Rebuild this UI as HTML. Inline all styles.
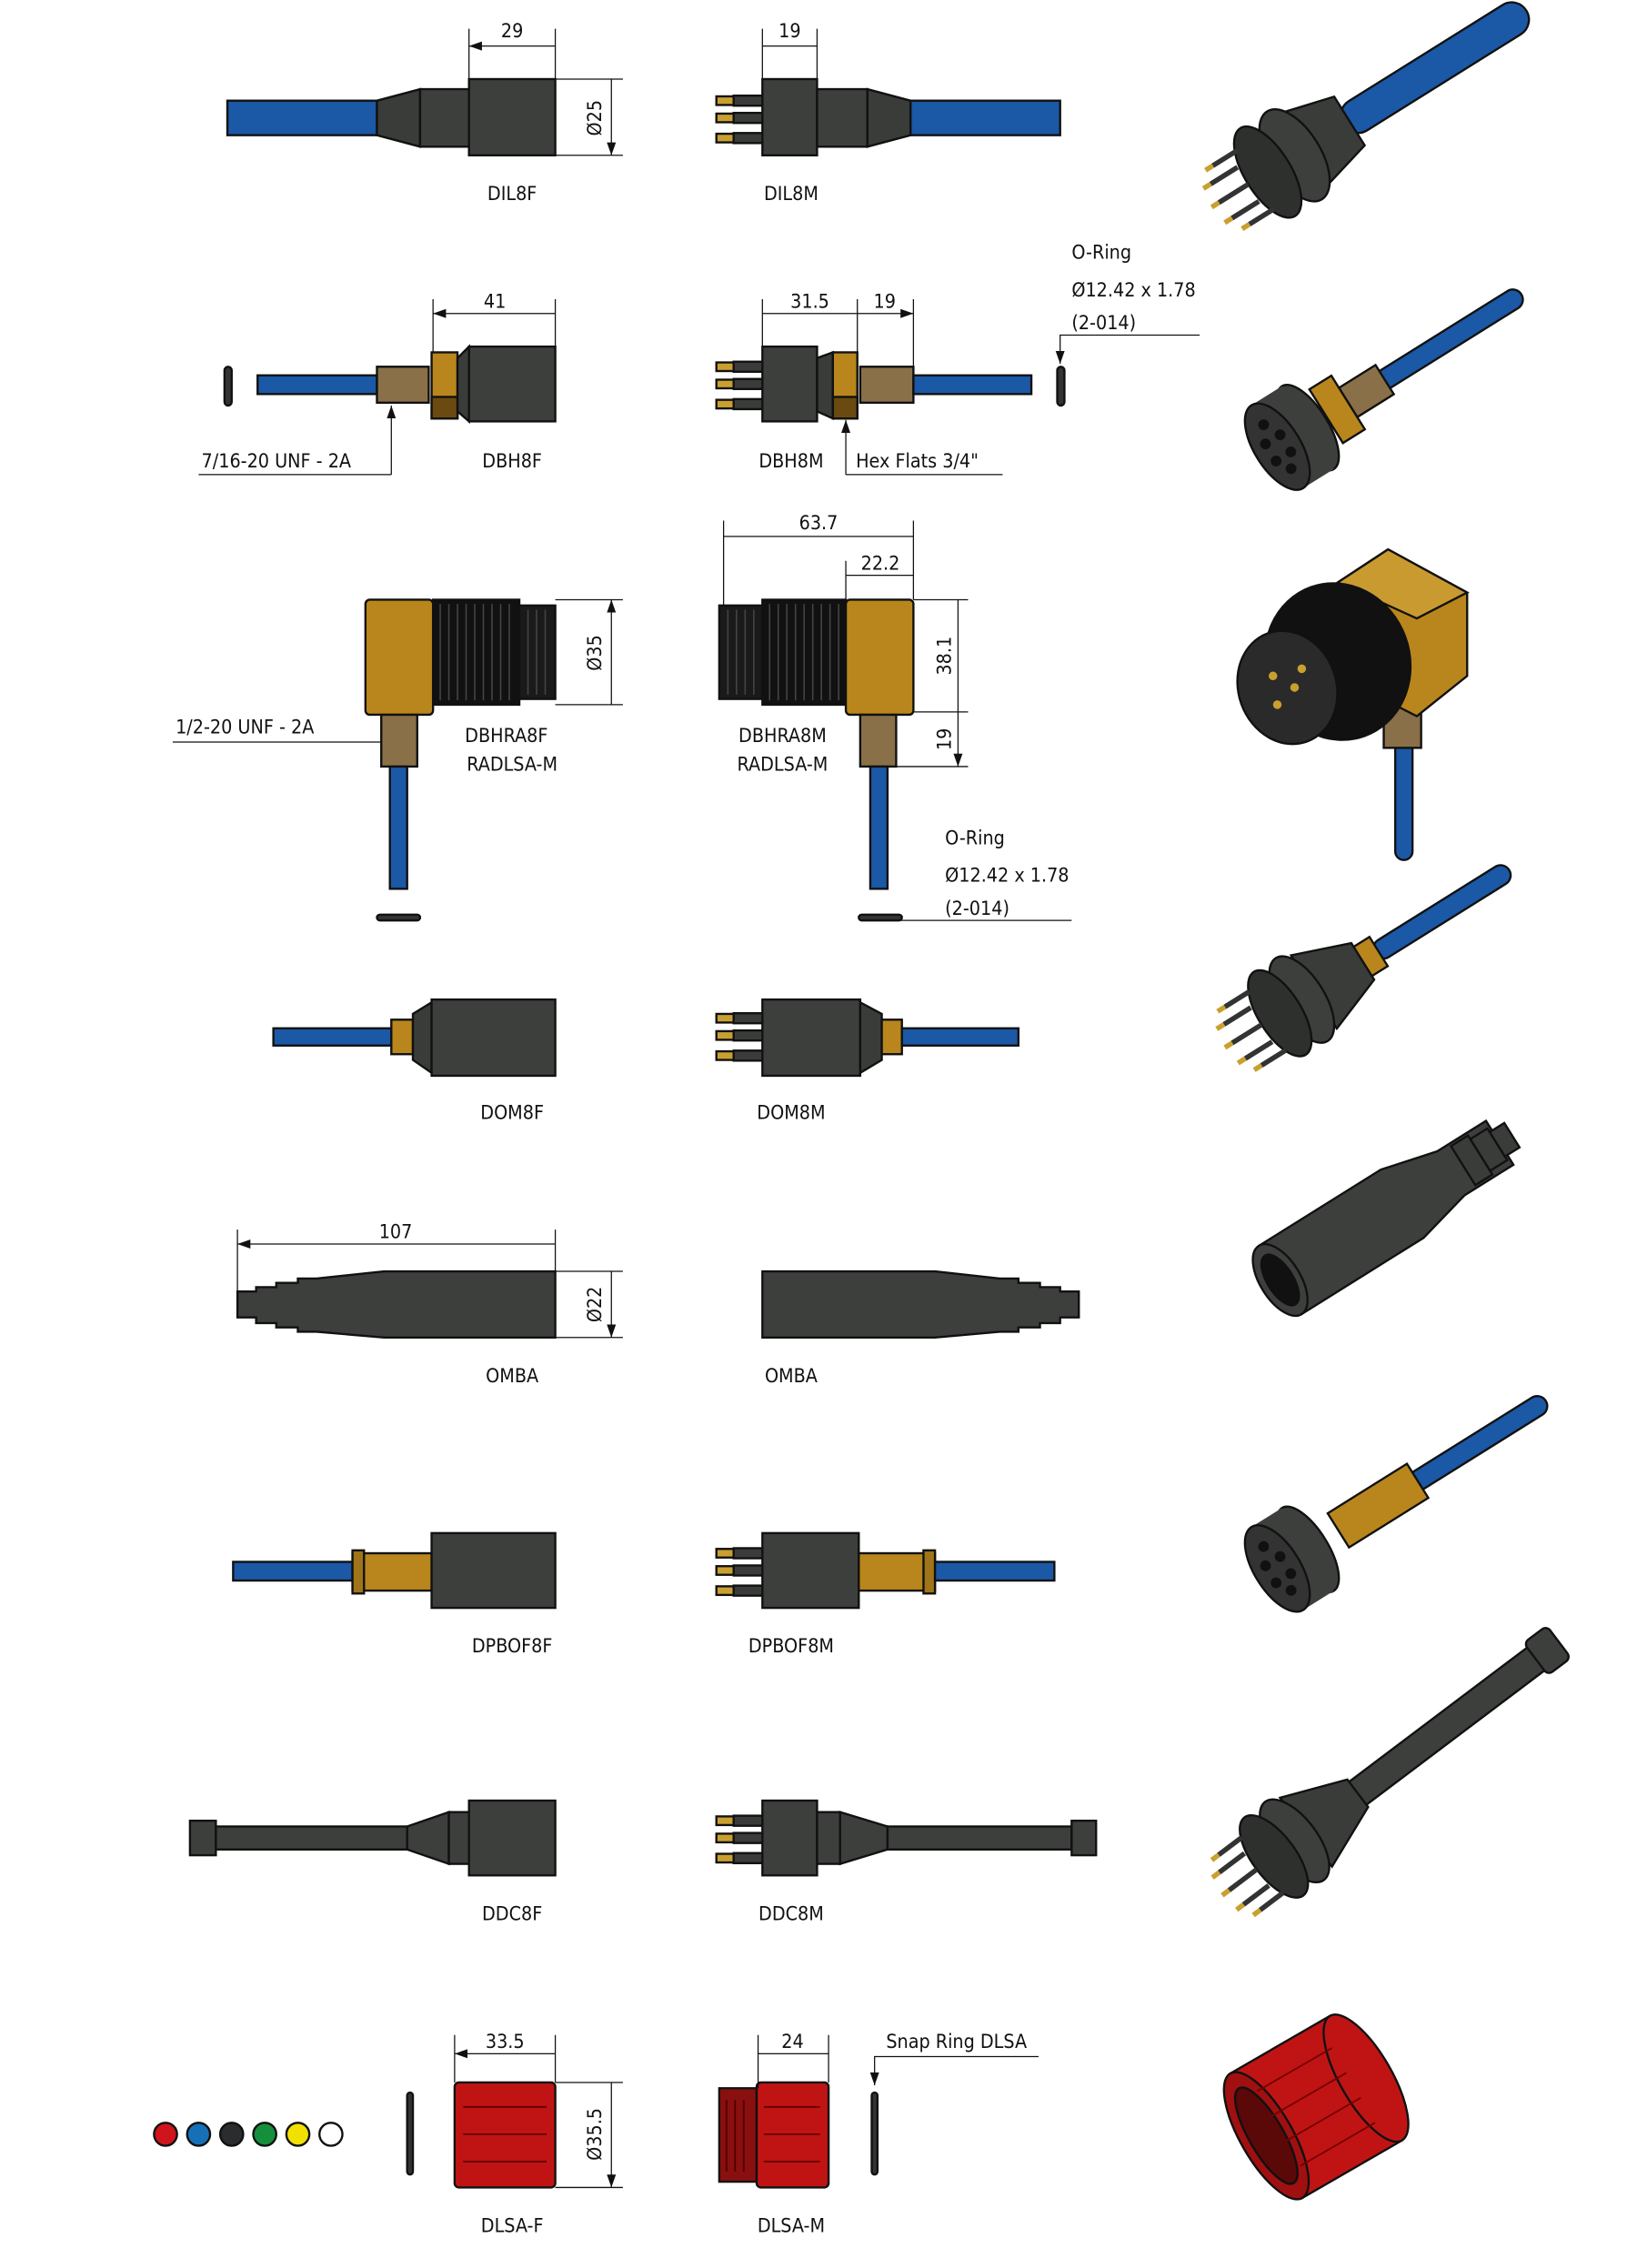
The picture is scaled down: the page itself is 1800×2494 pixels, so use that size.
<!DOCTYPE html>
<html><head><meta charset="utf-8"><style>
html,body{margin:0;padding:0;background:#fff}
svg{display:block}
text{font-family:"Liberation Sans Narrow","DejaVu Sans Condensed","Liberation Sans",sans-serif;font-size:13.5px;fill:#111}
.o{stroke:#111;stroke-width:1.5}
.d{stroke:#111;stroke-width:0.8;fill:none}
</style></head><body>
<svg width="1800" height="2494" viewBox="0 0 1138 1577" xmlns="http://www.w3.org/2000/svg">
<defs>
<marker id="a" viewBox="0 0 10 10" refX="10" refY="5" markerUnits="userSpaceOnUse" markerWidth="9" markerHeight="9" orient="auto-start-reverse"><path d="M0,1.5L10,5L0,8.5z" fill="#111"/></marker>
<g id="pins">
<rect x="0" y="-3" width="12" height="6" fill="#c9a030" class="o" stroke-width="1"/><rect x="12" y="-3.5" width="20" height="7" fill="#3a3c3a" class="o" stroke-width="1"/>
</g>
<g id="pin3">
<use href="#pins" y="70"/><use href="#pins" y="82"/><use href="#pins" y="96"/>
</g>
</defs>
<rect width="1138" height="1577" fill="#fff"/>

<!-- ROW 1 -->
<g class="o">
<rect x="158" y="70" width="104" height="24" fill="#1b58a5"/>
<path d="M262,70L292,62V102L262,94z" fill="#3a3c3a"/>
<rect x="292" y="62" width="34" height="40" fill="#3d3f3d"/>
<rect x="326" y="55" width="60" height="53" fill="#3d3f3d"/>
<rect x="530" y="55" width="38" height="53" fill="#3d3f3d"/>
<rect x="568" y="62" width="35" height="40" fill="#3d3f3d"/>
<path d="M603,62L633,70V94L603,102z" fill="#3a3c3a"/>
<rect x="633" y="70" width="104" height="24" fill="#1b58a5"/>
</g>
<use href="#pin3" x="498" y="0"/>
<g class="d"><path d="M326,20V55M386,20V55M530,20V55M568,20V55M386,55H433M386,108H433"/>
<path d="M326,32H386M530,32H568M425,55V108" marker-start="url(#a)" marker-end="url(#a)"/></g>
<text x="356" y="26" text-anchor="middle">29</text><text x="549" y="26" text-anchor="middle">19</text>
<text transform="translate(418,82) rotate(-90)" text-anchor="middle">Ø25</text>
<text x="356" y="139" text-anchor="middle">DIL8F</text><text x="550" y="139" text-anchor="middle">DIL8M</text>

<!-- ROW 2 -->
<g class="o">
<rect x="156" y="255" width="5" height="27" rx="2.5" fill="#333"/>
<rect x="179" y="261" width="83" height="13" fill="#1b58a5"/>
<rect x="262" y="255" width="36" height="25" fill="#8a7048"/>
<rect x="300" y="245" width="18" height="46" fill="#b8861c"/>
<rect x="300" y="276" width="18" height="15" fill="#6a4a10"/>
<path d="M318,249L326,241V293L318,286z" fill="#3a3c3a"/>
<rect x="326" y="241" width="60" height="52" fill="#3d3f3d"/>
<rect x="530" y="241" width="38" height="52" fill="#3d3f3d"/>
<path d="M568,249L579,245V291L568,286z" fill="#3a3c3a"/>
<rect x="579" y="245" width="17" height="46" fill="#b8861c"/>
<rect x="579" y="276" width="17" height="15" fill="#6a4a10"/>
<rect x="598" y="255" width="37" height="25" fill="#8a7048"/>
<rect x="635" y="261" width="82" height="13" fill="#1b58a5"/>
<rect x="735" y="255" width="5" height="27" rx="2.5" fill="#333"/>
</g>
<use href="#pin3" x="498" y="185"/>
<g class="d"><path d="M301,208V245M386,208V241M530,208V241M596,208V245M635,208V255"/>
<path d="M301,218H386M530,218H596M596,218H635" marker-start="url(#a)" marker-end="url(#a)"/>
<path d="M272,330V282" marker-end="url(#a)"/><path d="M138,330H272"/>
<path d="M588,330V292" marker-end="url(#a)"/><path d="M588,330H697"/>
<path d="M834,233H737V253" marker-end="url(#a)"/></g>
<text x="344" y="214" text-anchor="middle">41</text><text x="563" y="214" text-anchor="middle">31.5</text><text x="615" y="214" text-anchor="middle">19</text>
<text x="140" y="325">7/16-20 UNF - 2A</text><text x="595" y="325">Hex Flats 3/4"</text>
<text x="356" y="325" text-anchor="middle">DBH8F</text><text x="550" y="325" text-anchor="middle">DBH8M</text>
<text x="745" y="180">O-Ring</text><text x="745" y="206">Ø12.42 x 1.78</text><text x="745" y="229">(2-014)</text>

<!-- ROW 3 -->
<g class="o">
<rect x="301" y="417" width="60" height="73" fill="#111"/>
<rect x="361" y="421" width="25" height="65" fill="#1a1a1a"/>
<rect x="254" y="417" width="47" height="80" rx="3" fill="#b8861c"/>
<rect x="265" y="497" width="25" height="36" fill="#8a7048"/>
<rect x="271" y="533" width="12" height="85" fill="#1b58a5"/>
<rect x="262" y="636" width="30" height="4" rx="2" fill="#333"/>
<rect x="500" y="421" width="30" height="65" fill="#1a1a1a"/>
<rect x="530" y="417" width="58" height="73" fill="#111"/>
<rect x="588" y="417" width="47" height="80" rx="3" fill="#b8861c"/>
<rect x="598" y="497" width="25" height="36" fill="#8a7048"/>
<rect x="605" y="533" width="12" height="85" fill="#1b58a5"/>
<rect x="597" y="636" width="30" height="4" rx="2" fill="#333"/>
</g>
<g stroke="#444" stroke-width="1">
<path d="M306,420V487M312,420V487M318,420V487M324,420V487M330,420V487M336,420V487M342,420V487M348,420V487M354,420V487M367,424V483M373,424V483M379,424V483"/>
<path d="M535,420V487M541,420V487M547,420V487M553,420V487M559,420V487M565,420V487M571,420V487M577,420V487M583,420V487M506,424V483M512,424V483M518,424V483M524,424V483"/>
</g>
<g class="d"><path d="M386,417H433M386,490H433M503,362V421M635,362V417M588,390V417M635,417H673M635,495H673M623,533H673"/>
<path d="M425,417V490M503,373H635M588,400H635M666,417V495M666,495V533" marker-start="url(#a)" marker-end="url(#a)"/>
<path d="M120,516H265"/><path d="M745,640H605"/></g>
<text transform="translate(418,454) rotate(-90)" text-anchor="middle">Ø35</text>
<text x="569" y="368" text-anchor="middle">63.7</text><text x="612" y="396" text-anchor="middle">22.2</text>
<text transform="translate(661,456) rotate(-90)" text-anchor="middle">38.1</text><text transform="translate(661,514) rotate(-90)" text-anchor="middle">19</text>
<text x="122" y="510">1/2-20 UNF - 2A</text>
<text x="352" y="516" text-anchor="middle">DBHRA8F</text><text x="356" y="536" text-anchor="middle">RADLSA-M</text>
<text x="544" y="516" text-anchor="middle">DBHRA8M</text><text x="544" y="536" text-anchor="middle">RADLSA-M</text>
<text x="657" y="587">O-Ring</text><text x="657" y="613">Ø12.42 x 1.78</text><text x="657" y="636">(2-014)</text>

<!-- ROW 4 -->
<g class="o">
<rect x="190" y="715" width="82" height="12" fill="#1b58a5"/>
<rect x="272" y="709" width="15" height="24" fill="#b8861c"/>
<path d="M287,705L300,697V746L287,737z" fill="#3a3c3a"/>
<rect x="300" y="695" width="86" height="53" fill="#3d3f3d"/>
<rect x="530" y="695" width="68" height="53" fill="#3d3f3d"/>
<path d="M598,697L613,705V737L598,746z" fill="#3a3c3a"/>
<rect x="613" y="709" width="14" height="24" fill="#b8861c"/>
<rect x="627" y="715" width="81" height="12" fill="#1b58a5"/>
</g>
<use href="#pin3" x="498" y="638"/>
<text x="356" y="778" text-anchor="middle">DOM8F</text><text x="550" y="778" text-anchor="middle">DOM8M</text>

<!-- ROW 5 -->
<g class="o" fill="#3d3f3d">
<path d="M165,898H178V895H192V892H207V889H220L267,884H386V930H267L220,926H207V923H192V920H178V916H165z"/>
<path d="M750,898H737V895H723V892H708V889H695L650,884H530V930H650L695,926H708V923H723V920H737V916H750z"/>
</g>
<g class="d"><path d="M165,855V898M386,855V884M386,884H433M386,930H433"/>
<path d="M165,865H386M425,884V930" marker-start="url(#a)" marker-end="url(#a)"/></g>
<text x="275" y="861" text-anchor="middle">107</text>
<text transform="translate(418,907) rotate(-90)" text-anchor="middle">Ø22</text>
<text x="356" y="961" text-anchor="middle">OMBA</text><text x="550" y="961" text-anchor="middle">OMBA</text>

<!-- ROW 6 -->
<g class="o">
<rect x="162" y="1086" width="83" height="13" fill="#1b58a5"/>
<rect x="245" y="1080" width="55" height="26" fill="#b8861c"/>
<rect x="245" y="1078" width="8" height="30" fill="#a07418"/>
<rect x="300" y="1066" width="86" height="52" fill="#3d3f3d"/>
<rect x="530" y="1066" width="67" height="52" fill="#3d3f3d"/>
<rect x="597" y="1080" width="53" height="26" fill="#b8861c"/>
<rect x="642" y="1078" width="8" height="30" fill="#a07418"/>
<rect x="650" y="1086" width="83" height="13" fill="#1b58a5"/>
</g>
<use href="#pin3" x="498" y="1010"/>
<text x="356" y="1149" text-anchor="middle">DPBOF8F</text><text x="550" y="1149" text-anchor="middle">DPBOF8M</text>

<!-- ROW 7 -->
<g class="o" fill="#3d3f3d">
<rect x="132" y="1266" width="18" height="24"/>
<rect x="150" y="1270" width="133" height="16"/>
<path d="M283,1270L312,1260V1296L283,1286z"/>
<rect x="312" y="1260" width="14" height="36"/>
<rect x="326" y="1252" width="60" height="52"/>
<rect x="530" y="1252" width="38" height="52"/>
<rect x="568" y="1260" width="16" height="36"/>
<path d="M584,1260L617,1270V1286L584,1296z"/>
<rect x="617" y="1270" width="128" height="16"/>
<rect x="745" y="1266" width="17" height="24"/>
</g>
<use href="#pin3" x="498" y="1196"/>
<text x="356" y="1335" text-anchor="middle">DDC8F</text><text x="550" y="1335" text-anchor="middle">DDC8M</text>

<!-- ROW 8 -->
<g class="o">
<circle cx="115" cy="1484" r="8" fill="#d0141c"/><circle cx="138" cy="1484" r="8" fill="#1670b8"/>
<circle cx="161" cy="1484" r="8" fill="#2a2c2e"/><circle cx="184" cy="1484" r="8" fill="#14903c"/>
<circle cx="207" cy="1484" r="8" fill="#f2e100"/><circle cx="230" cy="1484" r="8" fill="#fff"/>
<rect x="283" y="1455" width="4" height="57" rx="2" fill="#333"/>
<rect x="316" y="1448" width="70" height="73" rx="3" fill="#c01414"/>
<rect x="500" y="1452" width="26" height="65" fill="#8a1010"/>
<rect x="526" y="1448" width="50" height="73" rx="3" fill="#c01414"/>
<rect x="606" y="1455" width="4" height="57" rx="2" fill="#333"/>
</g>
<g stroke="#600" stroke-width="1.2"><path d="M322,1465H380M322,1484H380M322,1503H380M531,1465H570M531,1484H570M531,1503H570"/>
<path d="M505,1460V1510M511,1460V1510M517,1460V1510" stroke="#500"/></g>
<g class="d"><path d="M316,1415V1448M386,1415V1448M527,1415V1452M576,1415V1448M386,1448H433M386,1521H433"/>
<path d="M316,1428H386M527,1428H576M425,1448V1521" marker-start="url(#a)" marker-end="url(#a)"/>
<path d="M722,1430H608V1450" marker-end="url(#a)"/></g>
<text x="351" y="1424" text-anchor="middle">33.5</text><text x="551" y="1424" text-anchor="middle">24</text>
<text transform="translate(418,1484) rotate(-90)" text-anchor="middle">Ø35.5</text>
<text x="616" y="1424">Snap Ring DLSA</text>
<text x="356" y="1552" text-anchor="middle">DLSA-F</text><text x="550" y="1552" text-anchor="middle">DLSA-M</text>

<!-- 3D VIEWS -->
<g stroke="#111" stroke-width="1.5">
<g transform="translate(900,108) rotate(-32)">
<rect x="40" y="-12" width="150" height="24" rx="12" fill="#1b58a5"/>
<path d="M0,-32L45,-20V20L0,32z" fill="#3a3c3a"/>
<ellipse cx="0" cy="0" rx="18" ry="36" fill="#3d3f3d"/><ellipse cx="-22" cy="0" rx="16" ry="36" fill="#2e302e"/>
<g stroke="#333" stroke-width="3.5"><path d="M-38,-14H-60M-38,0H-62M-38,14H-60M-32,-24H-52M-32,24H-52"/></g>
<g stroke="#c9a030" stroke-width="3.5"><path d="M-60,-14H-66M-62,0H-68M-60,14H-66M-52,-24H-58M-52,24H-58"/></g>
</g>
<g transform="translate(905,300) rotate(-32)">
<rect x="50" y="-7" width="130" height="14" rx="7" fill="#1b58a5"/>
<rect x="38" y="-12" width="30" height="24" fill="#8a7048"/>
<rect x="20" y="-22" width="18" height="44" fill="#b8861c"/>
<ellipse cx="5" cy="0" rx="14" ry="34" fill="#3d3f3d"/><rect x="-20" y="-34" width="25" height="68" fill="#3d3f3d" stroke="none"/>
<ellipse cx="-20" cy="0" rx="16" ry="34" fill="#333"/>
<g fill="#111"><circle cx="-20" cy="-18" r="3"/><circle cx="-20" cy="18" r="3"/><circle cx="-26" cy="-6" r="3"/><circle cx="-26" cy="8" r="3"/><circle cx="-14" cy="-6" r="3"/><circle cx="-14" cy="8" r="3"/></g>
</g>
<rect x="970" y="480" width="12" height="118" rx="6" fill="#1b58a5"/>
<rect x="962" y="470" width="26" height="50" fill="#8a7048"/>
<path d="M930,405L965,382L1020,412L1020,470L985,498L930,470z" fill="#b8861c"/>
<path d="M930,405L965,382L1020,412L985,430z" fill="#c99a30"/>
<ellipse cx="930" cy="460" rx="50" ry="55" fill="#111" transform="rotate(-20 930 460)"/>
<ellipse cx="895" cy="478" rx="34" ry="40" fill="#2a2a2a" transform="rotate(-20 895 478)"/>
<g fill="#c9a030" stroke="none"><circle cx="885" cy="470" r="3"/><circle cx="900" cy="478" r="3"/><circle cx="888" cy="490" r="3"/><circle cx="905" cy="465" r="3"/></g>
<g transform="translate(905,695) rotate(-32)">
<rect x="60" y="-7" width="110" height="14" rx="7" fill="#1b58a5"/>
<rect x="45" y="-12" width="18" height="24" fill="#b8861c"/>
<path d="M10,-30L50,-15V15L10,30z" fill="#3a3c3a"/>
<ellipse cx="0" cy="0" rx="16" ry="34" fill="#3d3f3d"/><ellipse cx="-18" cy="0" rx="15" ry="34" fill="#2e302e"/>
<g stroke="#333" stroke-width="3.5"><path d="M-33,-14H-55M-33,0H-57M-33,14H-55M-28,-24H-48M-28,24H-48"/></g>
<g stroke="#c9a030" stroke-width="3.5"><path d="M-55,-14H-61M-57,0H-63M-55,14H-61M-48,-24H-54M-48,24H-54"/></g>
</g>
<g transform="translate(890,890) rotate(-32)">
<path d="M0,-28L100,-28L140,-18H180V18H140L100,28L0,28z" fill="#3d3f3d"/>
<rect x="150" y="-16" width="14" height="32" fill="#3a3c3a"/><rect x="164" y="-13" width="14" height="26" fill="#3a3c3a"/><rect x="178" y="-10" width="12" height="20" fill="#3a3c3a"/>
<ellipse cx="0" cy="0" rx="14" ry="28" fill="#3d3f3d"/><ellipse cx="0" cy="0" rx="9" ry="20" fill="#111"/>
</g>
<g transform="translate(905,1080) rotate(-32)">
<rect x="90" y="-7" width="110" height="14" rx="7" fill="#1b58a5"/>
<rect x="30" y="-14" width="65" height="28" fill="#b8861c"/>
<ellipse cx="5" cy="0" rx="14" ry="34" fill="#3d3f3d"/><rect x="-20" y="-34" width="25" height="68" fill="#3d3f3d" stroke="none"/>
<ellipse cx="-20" cy="0" rx="16" ry="34" fill="#333"/>
<g fill="#111"><circle cx="-20" cy="-18" r="3"/><circle cx="-20" cy="18" r="3"/><circle cx="-26" cy="-6" r="3"/><circle cx="-26" cy="8" r="3"/><circle cx="-14" cy="-6" r="3"/><circle cx="-14" cy="8" r="3"/></g>
</g>
<g transform="translate(900,1280) rotate(-37)">
<rect x="50" y="-10" width="170" height="20" fill="#3d3f3d"/>
<rect x="210" y="-14" width="20" height="28" rx="4" fill="#3d3f3d"/>
<path d="M10,-30L55,-12V12L10,30z" fill="#3a3c3a"/>
<ellipse cx="0" cy="0" rx="16" ry="34" fill="#3d3f3d"/><ellipse cx="-18" cy="0" rx="15" ry="34" fill="#2e302e"/>
<g stroke="#333" stroke-width="3.5"><path d="M-33,-14H-55M-33,0H-57M-33,14H-55M-28,-24H-48M-28,24H-48"/></g>
<g stroke="#c9a030" stroke-width="3.5"><path d="M-55,-14H-61M-57,0H-63M-55,14H-61M-48,-24H-54M-48,24H-54"/></g>
</g>
<g transform="translate(915,1465) rotate(-30)">
<path d="M-40,-50H40V50H-40z" fill="#c01414"/>
<ellipse cx="40" cy="0" rx="18" ry="50" fill="#c01414"/>
<ellipse cx="-40" cy="0" rx="18" ry="50" fill="#a01010"/>
<ellipse cx="-40" cy="0" rx="12" ry="38" fill="#5a0808"/>
<g stroke="#700" stroke-width="1.2"><path d="M-30,-30H30M-30,-10H30M-30,10H30M-30,30H30"/></g>
</g>
</g>
</svg>
</body></html>
